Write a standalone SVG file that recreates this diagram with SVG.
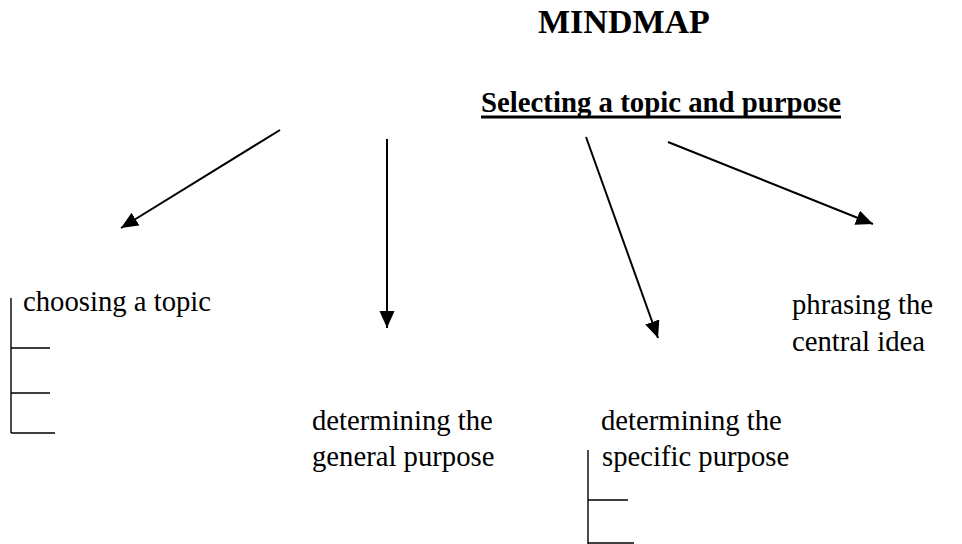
<svg xmlns="http://www.w3.org/2000/svg" width="962" height="544" viewBox="0 0 962 544">
<style>
  .title{font-family:"Liberation Serif","Times New Roman",serif;font-weight:bold;font-size:34px;fill:#000}
  .sub{font-family:"Liberation Serif","Times New Roman",serif;font-weight:bold;font-size:28.8px;fill:#000}
  .lbl{font-family:"Liberation Serif","Times New Roman",serif;font-size:28.7px;fill:#000}
  .edge{stroke:#000;stroke-width:2;fill:none}
  .brk{stroke:#000;stroke-width:1.4;fill:none}
</style>
<defs>
  <marker id="arr" markerUnits="userSpaceOnUse" markerWidth="18" markerHeight="16" refX="17" refY="7.5" orient="auto">
    <path d="M0,0 L17,7.5 L0,15 Z" fill="#000"/>
  </marker>
</defs>
<rect width="962" height="544" fill="#fff"/>
<g id="title">
  <text class="title" x="538" y="33">MINDMAP</text>
</g>
<g id="root">
  <text class="sub" x="481" y="112">Selecting a topic and purpose</text>
  <line x1="481" y1="117" x2="841" y2="117" stroke="#000" stroke-width="3"/>
</g>
<g id="connectors">
  <line class="edge" x1="280" y1="130" x2="121" y2="228" marker-end="url(#arr)"/>
  <line class="edge" x1="387" y1="139" x2="387" y2="328" marker-end="url(#arr)"/>
  <line class="edge" x1="586" y1="137" x2="658" y2="338" marker-end="url(#arr)"/>
  <line class="edge" x1="668" y1="142" x2="873" y2="224" marker-end="url(#arr)"/>
</g>
<g id="choosing">
  <text class="lbl" x="23" y="311">choosing a topic</text>
  <path class="brk" d="M11,298 V433 M11,348 H50 M11,393 H50 M11,433 H55"/>
</g>
<g id="general">
  <text class="lbl" x="312" y="430">determining the</text>
  <text class="lbl" x="312" y="466">general purpose</text>
</g>
<g id="specific">
  <text class="lbl" x="601" y="430">determining the</text>
  <text class="lbl" x="602" y="466">specific purpose</text>
  <path class="brk" d="M588,450 V544 M588,500 H628 M588,543 H634"/>
</g>
<g id="central">
  <text class="lbl" x="792" y="314">phrasing the</text>
  <text class="lbl" x="792" y="351">central idea</text>
</g>
</svg>
